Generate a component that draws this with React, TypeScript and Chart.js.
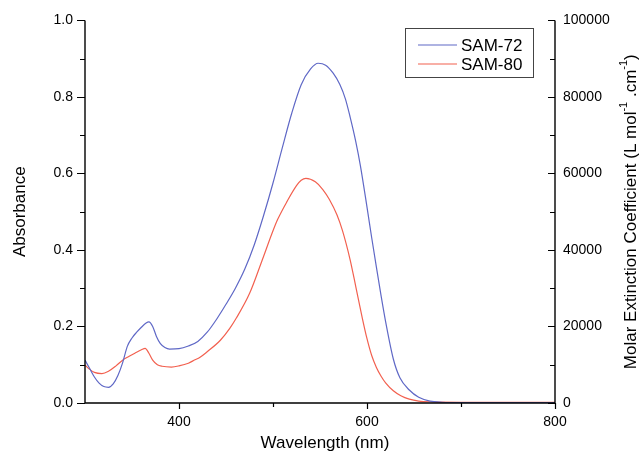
import React, { useEffect, useRef } from "react";
import { Chart, registerables } from "chart.js";

Chart.register(...registerables);

// ---- Data ----
const sam72Wavelength = [300, 305, 310, 315, 320, 325, 330, 335, 340, 345, 350, 355, 360, 365, 368, 372, 376, 380, 385, 390, 400, 410, 420, 430, 440, 450, 460, 470, 480, 490, 500, 510, 520, 530, 540, 548, 556, 564, 571, 577, 582, 588, 593, 600, 605, 610, 615, 620, 628, 635, 645, 655, 667, 680, 700, 750, 800];
const sam72Absorbance = [0.112, 0.09, 0.068, 0.052, 0.043, 0.041, 0.05, 0.072, 0.105, 0.148, 0.17, 0.185, 0.198, 0.209, 0.212, 0.2, 0.174, 0.156, 0.145, 0.141, 0.142, 0.149, 0.161, 0.185, 0.219, 0.258, 0.3, 0.35, 0.413, 0.49, 0.575, 0.668, 0.758, 0.832, 0.873, 0.888, 0.883, 0.862, 0.833, 0.795, 0.748, 0.684, 0.62, 0.512, 0.432, 0.355, 0.28, 0.21, 0.115, 0.066, 0.034, 0.015, 0.005, 0.002, 0.001, 0.001, 0.001];

const sam80Wavelength = [300, 305, 310, 318, 325, 333, 340, 347, 353, 360, 364, 368, 372, 377, 382, 392, 400, 410, 417, 422, 430, 444, 454, 461, 475, 488, 500, 505, 515, 525, 530, 535, 545, 553, 560, 568, 574, 582, 588, 595, 600, 605, 610, 615, 620, 628, 636, 645, 655, 670, 700, 750, 800];
const sam80Absorbance = [0.099, 0.088, 0.08, 0.077, 0.083, 0.097, 0.112, 0.122, 0.13, 0.139, 0.143, 0.13, 0.112, 0.1, 0.096, 0.094, 0.097, 0.104, 0.113, 0.119, 0.134, 0.164, 0.195, 0.222, 0.286, 0.37, 0.45, 0.48, 0.527, 0.568, 0.582, 0.587, 0.578, 0.558, 0.532, 0.492, 0.45, 0.375, 0.305, 0.222, 0.168, 0.124, 0.093, 0.07, 0.052, 0.032, 0.019, 0.01, 0.005, 0.003, 0.002, 0.002, 0.002];

const seriesLabels = ["SAM-72", "SAM-80"];
const seriesColors = ["#5f68c6", "#f2604f"];

const xTickLabels = ["400", "600", "800"];
const yTickLabels = ["0.0", "0.2", "0.4", "0.6", "0.8", "1.0"];
const y2TickLabels = ["0", "20000", "40000", "60000", "80000", "100000"];

const xTitle = "Wavelength (nm)";
const yTitle = "Absorbance";
const y2TitleParts: [string, boolean][] = [
  ["Molar Extinction Coefficient (L mol", false],
  ["-1", true],
  [" .cm", false],
  ["-1", true],
  [")", false],
];

const FONT = "'Liberation Sans', Arial, sans-serif";

const decorPlugin = {
  id: "decor",
  afterDraw(chart: any) {
    const ctx = chart.ctx as CanvasRenderingContext2D;
    const area = chart.chartArea;
    const sx = chart.scales.x;
    const sy = chart.scales.y;
    const sy2 = chart.scales.y2;
    ctx.save();
    ctx.strokeStyle = "#000";
    ctx.lineWidth = 1.4;
    // axis lines
    ctx.beginPath();
    ctx.moveTo(area.left, area.top);
    ctx.lineTo(area.left, area.bottom);
    ctx.lineTo(area.right, area.bottom);
    ctx.moveTo(area.right, area.top);
    ctx.lineTo(area.right, area.bottom);
    ctx.stroke();
    // ticks
    ctx.lineWidth = 1.2;
    ctx.beginPath();
    sx.ticks.forEach((t: any) => {
      if (t.value <= sx.min) return;
      const px = Math.round(sx.getPixelForValue(t.value)) + 0.5;
      const len = t.label !== "" ? 6 : 4;
      ctx.moveTo(px, area.bottom);
      ctx.lineTo(px, area.bottom + len);
    });
    sy.ticks.forEach((t: any) => {
      const py = Math.round(sy.getPixelForValue(t.value)) + 0.5;
      const len = t.label !== "" ? 8 : 5;
      ctx.moveTo(area.left, py);
      ctx.lineTo(area.left - len, py);
    });
    sy2.ticks.forEach((t: any) => {
      const py = Math.round(sy2.getPixelForValue(t.value)) + 0.5;
      const len = t.label !== "" ? 7 : 5;
      ctx.moveTo(area.right, py);
      ctx.lineTo(area.right - len, py);
    });
    ctx.stroke();

    // titles
    ctx.fillStyle = "#000";
    ctx.font = `17px ${FONT}`;
    ctx.textAlign = "center";
    ctx.textBaseline = "middle";
    ctx.fillText(xTitle, (area.left + area.right) / 2 + 5, 443);

    ctx.save();
    ctx.translate(20, (area.top + area.bottom) / 2);
    ctx.rotate(-Math.PI / 2);
    ctx.fillText(yTitle, 0, 0);
    ctx.restore();

    // right title with superscripts
    ctx.save();
    const normalFont = `17px ${FONT}`;
    const supFont = `11px ${FONT}`;
    let total = 0;
    const widths = y2TitleParts.map(([s, sup]) => {
      ctx.font = sup ? supFont : normalFont;
      const w = ctx.measureText(s).width;
      total += w;
      return w;
    });
    ctx.translate(631, (area.top + area.bottom) / 2);
    ctx.rotate(-Math.PI / 2);
    ctx.textAlign = "left";
    let cx = -total / 2;
    y2TitleParts.forEach(([s, sup], i) => {
      ctx.font = sup ? supFont : normalFont;
      ctx.fillText(s, cx, sup ? -7 : 0);
      cx += widths[i];
    });
    ctx.restore();

    // legend box
    const lx = 405, ly = 28, lw = 128, lh = 49;
    ctx.fillStyle = "#fff";
    ctx.fillRect(lx, ly, lw, lh);
    ctx.strokeStyle = "#444";
    ctx.lineWidth = 1;
    ctx.strokeRect(lx + 0.5, ly + 0.5, lw, lh);
    chart.data.datasets.forEach((ds: any, i: number) => {
      const rowY = ly + 17 + i * 19;
      ctx.strokeStyle = ds.borderColor;
      ctx.lineWidth = 1.2;
      ctx.beginPath();
      ctx.moveTo(lx + 13, rowY);
      ctx.lineTo(lx + 52, rowY);
      ctx.stroke();
      ctx.fillStyle = "#000";
      ctx.font = `17px ${FONT}`;
      ctx.textAlign = "left";
      ctx.textBaseline = "middle";
      ctx.fillText(ds.label, lx + 56, rowY + 1);
    });
    ctx.restore();
  },
};

export default function App() {
  const ref = useRef<HTMLCanvasElement | null>(null);
  useEffect(() => {
    if (!ref.current) return;
    const mk = (xs: number[], ys: number[]) => xs.map((x, i) => ({ x, y: ys[i] }));
    const tickFont = { family: FONT, size: 14 };
    const chart = new Chart(ref.current, {
      type: "line",
      data: {
        datasets: [
          {
            label: seriesLabels[0],
            data: mk(sam72Wavelength, sam72Absorbance),
            borderColor: seriesColors[0],
            borderWidth: 1.2,
            pointRadius: 0,
            cubicInterpolationMode: "monotone",
            fill: false,
            yAxisID: "y",
          },
          {
            label: seriesLabels[1],
            data: mk(sam80Wavelength, sam80Absorbance),
            borderColor: seriesColors[1],
            borderWidth: 1.2,
            pointRadius: 0,
            cubicInterpolationMode: "monotone",
            fill: false,
            yAxisID: "y",
          },
        ],
      },
      options: {
        animation: false,
        responsive: false,
        events: [],
        layout: { padding: { top: 19, left: 0, right: 0, bottom: 0 } },
        plugins: { legend: { display: false }, tooltip: { enabled: false } },
        scales: {
          x: {
            type: "linear",
            min: 300,
            max: 800,
            grid: { display: false, drawTicks: false },
            border: { display: false },
            ticks: {
              stepSize: 100,
              autoSkip: false,
              maxRotation: 0,
              padding: 11,
              color: "#000",
              font: tickFont,
              callback: (v: any) => (xTickLabels.includes(String(v)) ? String(v) : ""),
            },
            afterFit: (s: any) => {
              s.height = 55;
            },
          },
          y: {
            type: "linear",
            position: "left",
            min: 0,
            max: 1,
            grid: { display: false, drawTicks: false },
            border: { display: false },
            ticks: {
              stepSize: 0.1,
              autoSkip: false,
              padding: 12,
              color: "#000",
              font: tickFont,
              callback: (v: any) => {
                const s = (Math.round(Number(v) * 10) / 10).toFixed(1);
                return yTickLabels.includes(s) ? s : "";
              },
            },
            afterFit: (s: any) => {
              s.width = 85;
            },
          },
          y2: {
            type: "linear",
            position: "right",
            min: 0,
            max: 100000,
            grid: { display: false, drawTicks: false },
            border: { display: false },
            ticks: {
              stepSize: 10000,
              autoSkip: false,
              padding: 8,
              color: "#000",
              font: tickFont,
              callback: (v: any) => {
                const s = String(Math.round(Number(v)));
                return y2TickLabels.includes(s) ? s : "";
              },
            },
            afterFit: (s: any) => {
              s.width = 84;
            },
          },
        },
      } as any,
      plugins: [decorPlugin],
    });
    return () => chart.destroy();
  }, []);
  return (
    <div style={{ position: "fixed", left: 0, top: 0, width: 639, height: 458, background: "#fff" }}>
      <canvas ref={ref} width={639} height={458} style={{ width: 639, height: 458, display: "block" }} />
    </div>
  );
}
